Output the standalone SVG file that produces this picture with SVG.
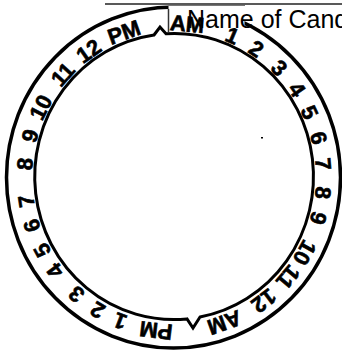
<svg xmlns="http://www.w3.org/2000/svg" width="342" height="350" viewBox="0 0 342 350">
<style>
.ring{fill:none;stroke:#000;stroke-linejoin:miter}
.lbl{font-family:"Liberation Sans",Arial,Helvetica,sans-serif;font-weight:bold;font-size:22px;fill:#000;stroke:#000;stroke-width:0.6;text-anchor:middle}
.hdr{font-family:"Liberation Sans",Arial,Helvetica,sans-serif;font-size:25px;fill:#000}
</style>
<rect width="342" height="350" fill="#fff"/>
<g id="dial">
<ellipse class="ring" cx="173.5" cy="177.5" rx="167" ry="170.5" stroke-width="3.5"/>
<path class="ring" stroke-width="3" d="M154,35 L160,27 L166,33.7 A139 143 0 0 1 200,317 L193,328 L187,318.9 A139 143 0 0 1 154,35 Z"/>
</g>
<g id="header">
<line x1="105" y1="4" x2="342" y2="4" stroke="#222" stroke-width="1.5"/>
<rect x="168.5" y="5" width="76" height="24" fill="#fff"/>
<line x1="168.5" y1="9" x2="168.5" y2="32" stroke="#333" stroke-width="1.5"/>
<line x1="168" y1="5.5" x2="245" y2="5.5" stroke="#777" stroke-width="1"/>
</g>
<g id="pm-labels">
<text class="lbl" transform="translate(123.9 31.9) rotate(-19.5)" y="8">PM</text>
<text class="lbl" transform="translate(88.4 50.6) rotate(-34.8)" y="8">12</text>
<text class="lbl" transform="translate(62.5 74.1) rotate(-48)" y="8">11</text>
<text class="lbl" transform="translate(40.5 107.1) rotate(-62.9)" y="8">10</text>
<text class="lbl" transform="translate(29.6 135.7) rotate(-74.3)" y="8">9</text>
<text class="lbl" transform="translate(24.6 164) rotate(-85)" y="8">8</text>
<text class="lbl" transform="translate(25.8 201.1) rotate(-98.8)" y="8">7</text>
<text class="lbl" transform="translate(31.5 225.8) rotate(-108.2)" y="8">6</text>
<text class="lbl" transform="translate(41.8 250.5) rotate(-118.2)" y="8">5</text>
<text class="lbl" transform="translate(54.7 271.1) rotate(-127.3)" y="8">4</text>
<text class="lbl" transform="translate(76.2 294.6) rotate(-139.3)" y="8">3</text>
<text class="lbl" transform="translate(97.4 310.4) rotate(-149.3)" y="8">2</text>
<text class="lbl" transform="translate(120 321.6) rotate(-158.9)" y="8">1</text>
<text class="lbl" transform="translate(156 330.9) rotate(-173.1)" y="8">PM</text>
</g>
<g id="am-labels">
<text class="lbl" transform="translate(187.3 23.6) rotate(5.1)" y="8">AM</text>
<text class="lbl" transform="translate(232.4 35.2) rotate(22.9)" y="8">1</text>
<text class="lbl" transform="translate(256.4 48.4) rotate(33.3)" y="8">2</text>
<text class="lbl" transform="translate(279.5 67.7) rotate(44.7)" y="8">3</text>
<text class="lbl" transform="translate(297.2 89.3) rotate(55.2)" y="8">4</text>
<text class="lbl" transform="translate(309.9 112.2) rotate(65)" y="8">5</text>
<text class="lbl" transform="translate(319 138) rotate(75.2)" y="8">6</text>
<text class="lbl" transform="translate(323.4 163.8) rotate(84.9)" y="8">7</text>
<text class="lbl" transform="translate(323.3 192.8) rotate(95.7)" y="8">8</text>
<text class="lbl" transform="translate(318.7 218.3) rotate(105.3)" y="8">9</text>
<text class="lbl" transform="translate(304.9 252.9) rotate(119.2)" y="8">10</text>
<text class="lbl" transform="translate(288.4 277.4) rotate(130.3)" y="8">11</text>
<text class="lbl" transform="translate(264.1 301.1) rotate(143.1)" y="8">12</text>
<text class="lbl" transform="translate(224.6 323) rotate(160.3)" y="8">AM</text>
</g>
<g id="name-label">
<text class="hdr" x="187" y="28">Name of Cand</text>
</g>
<rect x="261" y="137" width="2" height="1.5" fill="#000"/>
</svg>
